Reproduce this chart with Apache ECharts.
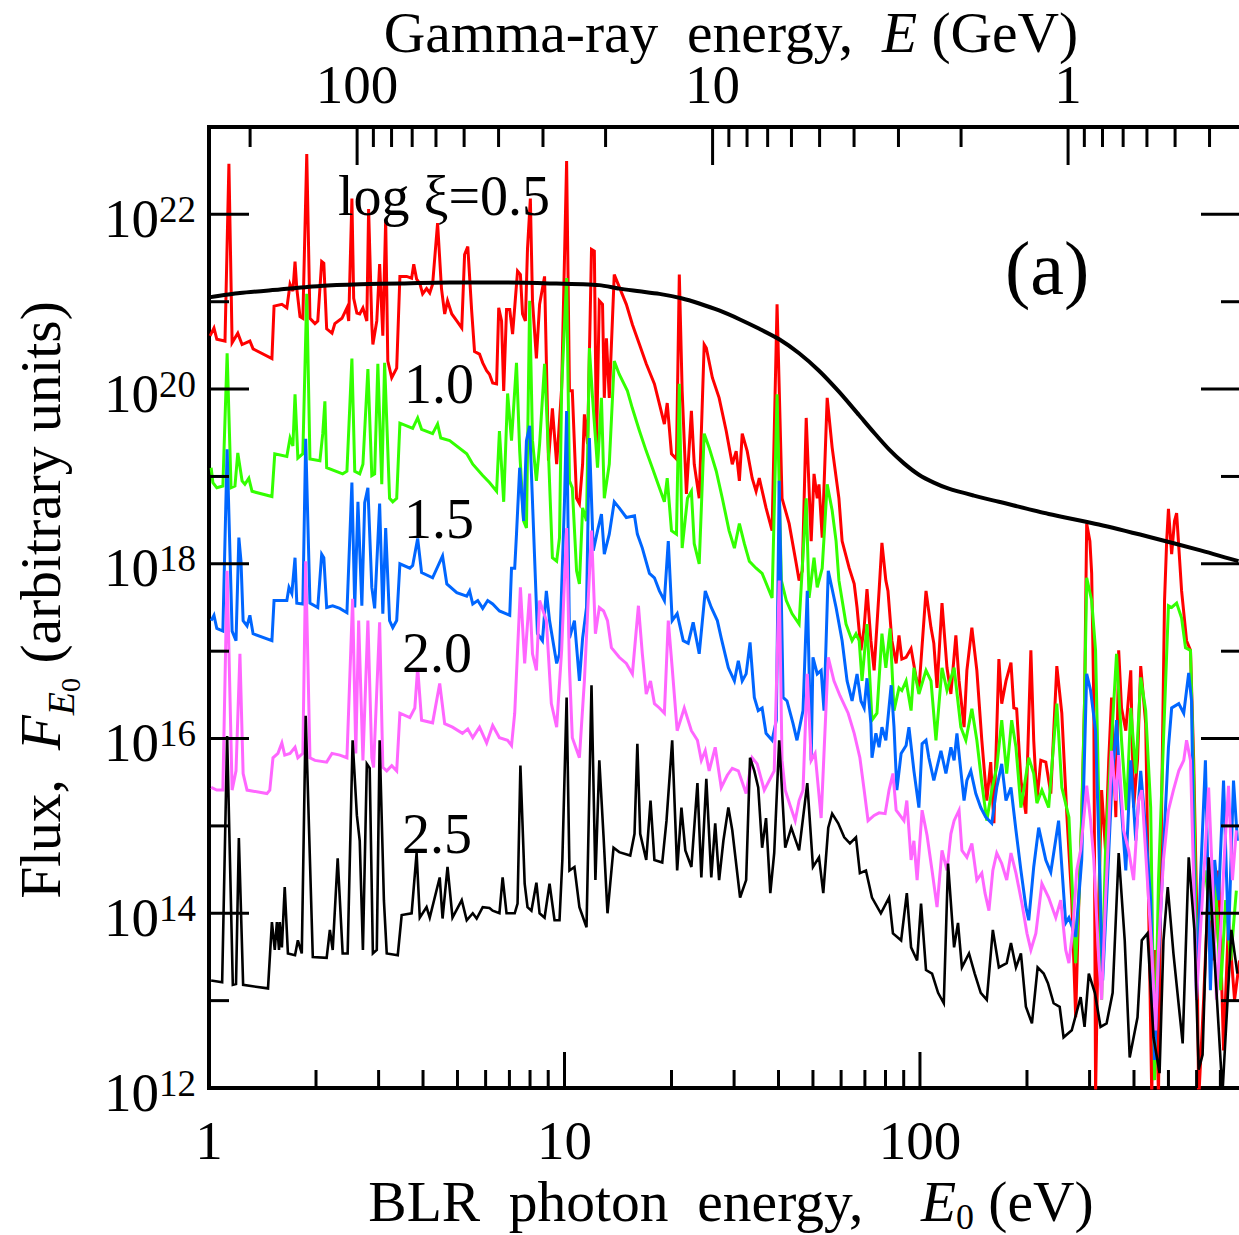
<!DOCTYPE html>
<html><head><meta charset="utf-8">
<script src="https://cdn.jsdelivr.net/npm/echarts@6/dist/echarts.min.js"></script>
<style>html,body{margin:0;padding:0;overflow:hidden;background:#fff}#c{width:1239px;height:1235px}</style>
</head><body><div id="c"></div><script>
// ---- axis settings (values) ----
const E0_MAX = 800;            // eV, right end of bottom axis
const E0_MIN = 1;
const ME2_GEV_EV = 261;        // E (GeV) = 261 / E0 (eV)
const FLUX_MIN = 1e12, FLUX_MAX = 1e23;

// ---- tick values ----
const xMajor = [1, 10, 100];
const xMinor = [2,3,4,5,6,7,8,9,20,30,40,50,60,70,80,90,200,300,400,500,600,700];
const topMajorGeV = [100, 10, 1];
const topMinorGeV = [200,90,80,70,60,50,40,30,20,9,8,7,6,5,4,3,2,0.9,0.8,0.7,0.6,0.5,0.4];
const yLabelExp = [12,14,16,18,20,22];
const yMinorExp = [13,15,17,19,21];

// ---- series: [log10 E0 (eV), log10 flux] ----
const logXi05 = [[.003,20.61],[.014,20.70],[.022,20.57],[.045,20.55],[.056,22.58],[.065,20.53],[.081,20.64],[.093,20.51],[.115,20.55],[.124,20.46],[.177,20.35],[.183,20.95],[.205,20.97],[.219,20.93],[.228,21.20],[.236,21.12],[.242,21.46],[.247,21.15],[.256,20.83],[.264,20.81],[.275,22.69],[.284,20.81],[.298,20.75],[.306,20.78],[.317,21.46],[.323,21.44],[.331,20.69],[.346,20.64],[.354,20.75],[.374,20.81],[.388,20.93],[.393,20.78],[.402,22.18],[.407,21.04],[.416,20.87],[.424,20.86],[.433,20.93],[.444,20.78],[.449,22.06],[.458,20.74],[.461,20.51],[.472,20.78],[.480,21.43],[.489,20.61],[.497,21.94],[.503,20.32],[.514,20.13],[.528,20.24],[.537,21.29],[.556,21.29],[.570,21.27],[.576,21.43],[.584,21.26],[.593,21.21],[.601,21.09],[.612,21.15],[.621,21.10],[.629,21.20],[.643,21.90],[.654,21.15],[.663,20.86],[.671,21.01],[.683,20.86],[.697,20.78],[.711,20.70],[.719,21.54],[.728,21.63],[.739,20.89],[.747,20.43],[.761,20.40],[.770,20.30],[.781,20.21],[.789,20.17],[.798,20.07],[.809,20.06],[.815,20.93],[.823,20.78],[.829,19.98],[.837,20.91],[.846,20.91],[.854,20.63],[.862,21.04],[.868,21.35],[.876,21.31],[.882,20.86],[.890,20.78],[.896,21.61],[.904,22.18],[.910,21.01],[.921,20.35],[.930,20.97],[.944,21.29],[.955,19.18],[.966,19.78],[.978,19.14],[.992,20.01],[1.006,22.61],[1.014,19.98],[1.022,19.98],[1.034,18.75],[1.042,18.69],[1.051,19.14],[1.056,19.71],[1.065,19.37],[1.076,21.60],[1.084,21.58],[1.090,19.37],[1.098,21.01],[1.107,20.97],[1.112,19.90],[1.118,20.58],[1.126,19.90],[1.140,21.31],[1.174,20.97],[1.191,20.74],[1.211,20.51],[1.230,20.29],[1.253,20.06],[1.267,19.83],[1.281,19.60],[1.289,19.84],[1.301,19.26],[1.315,19.20],[1.323,21.31],[1.331,19.98],[1.343,18.80],[1.357,19.75],[1.365,19.14],[1.379,18.75],[1.393,20.51],[1.399,20.47],[1.416,20.13],[1.435,19.90],[1.455,19.52],[1.472,19.14],[1.483,19.29],[1.492,18.95],[1.500,19.49],[1.514,19.29],[1.528,18.98],[1.539,18.83],[1.548,18.98],[1.567,18.64],[1.584,18.38],[1.598,20.97],[1.612,18.75],[1.632,18.46],[1.652,18.00],[1.660,17.81],[1.669,17.92],[1.680,19.67],[1.694,18.26],[1.702,19.03],[1.711,18.75],[1.716,18.91],[1.725,18.30],[1.739,19.90],[1.753,19.33],[1.772,18.75],[1.781,18.26],[1.801,17.95],[1.815,17.77],[1.823,17.50],[1.834,17.01],[1.843,17.27],[1.851,17.71],[1.862,17.12],[1.871,16.78],[1.885,17.69],[1.893,18.24],[1.904,17.81],[1.910,17.69],[1.921,17.12],[1.933,16.86],[1.941,17.18],[1.949,16.91],[1.961,16.93],[1.975,17.03],[1.989,16.70],[1.997,16.55],[2.017,17.69],[2.031,17.27],[2.039,17.09],[2.048,16.58],[2.062,17.55],[2.076,16.81],[2.087,16.51],[2.101,17.18],[2.110,16.66],[2.124,16.13],[2.132,16.78],[2.146,17.27],[2.160,16.78],[2.174,15.98],[2.188,15.29],[2.199,15.73],[2.208,15.03],[2.222,16.91],[2.230,16.40],[2.242,16.66],[2.256,16.87],[2.264,16.35],[2.272,16.34],[2.284,15.52],[2.298,15.14],[2.312,17.01],[2.320,15.98],[2.329,15.29],[2.340,15.75],[2.354,15.73],[2.368,15.37],[2.385,16.83],[2.399,16.29],[2.413,15.14],[2.427,14.15],[2.438,12.81],[2.447,14.15],[2.455,15.06],[2.463,16.43],[2.469,18.46],[2.478,18.26],[2.483,17.89],[2.489,16.43],[2.494,11.92],[2.503,14.15],[2.511,15.41],[2.522,14.72],[2.531,15.75],[2.539,16.47],[2.551,15.10],[2.559,17.01],[2.567,16.35],[2.579,16.09],[2.593,16.78],[2.601,15.21],[2.612,15.75],[2.621,16.83],[2.635,16.17],[2.643,14.15],[2.652,11.92],[2.660,13.58],[2.671,11.92],[2.680,15.29],[2.688,17.58],[2.694,18.26],[2.699,18.63],[2.708,18.11],[2.716,18.49],[2.722,18.58],[2.736,17.69],[2.750,17.12],[2.761,17.01],[2.770,15.75],[2.778,14.15],[2.784,11.86],[2.798,13.01],[2.812,14.38],[2.826,13.46],[2.840,14.49],[2.854,12.43],[2.868,13.92],[2.885,13.01],[2.899,13.46]];

const logXi10 = [[.006,19.10],[.011,18.93],[.022,18.87],[.039,18.89],[.051,20.41],[.062,18.87],[.073,18.89],[.081,19.27],[.093,18.95],[.101,18.91],[.112,18.98],[.121,18.83],[.177,18.77],[.185,19.26],[.219,19.23],[.228,19.44],[.236,19.35],[.242,19.94],[.250,19.21],[.264,19.26],[.275,21.09],[.284,19.20],[.312,19.18],[.320,19.49],[.326,19.86],[.331,19.10],[.376,19.03],[.388,19.06],[.402,20.35],[.410,19.06],[.424,19.03],[.433,19.14],[.447,20.23],[.458,19.01],[.466,19.03],[.475,20.29],[.486,18.91],[.494,20.30],[.508,18.75],[.517,18.71],[.528,18.75],[.537,19.61],[.556,19.58],[.573,19.55],[.587,19.67],[.598,19.54],[.629,19.49],[.643,19.60],[.652,19.44],[.677,19.41],[.725,19.26],[.742,19.14],[.770,19.01],[.789,18.93],[.809,18.83],[.817,19.52],[.829,18.71],[.840,19.95],[.851,19.41],[.865,20.30],[.874,19.29],[.885,18.49],[.893,18.41],[.902,21.01],[.910,19.41],[.921,18.95],[.930,19.37],[.944,20.29],[.955,19.26],[.966,18.07],[.978,18.03],[.986,18.30],[.992,20.01],[1.006,21.27],[1.014,18.95],[1.022,18.87],[1.034,17.92],[1.042,17.77],[1.051,18.64],[1.062,18.49],[1.070,20.47],[1.079,19.90],[1.093,19.10],[1.104,19.90],[1.112,18.75],[1.126,19.14],[1.140,20.32],[1.154,20.17],[1.177,19.98],[1.191,19.78],[1.211,19.52],[1.230,19.29],[1.247,19.10],[1.267,18.87],[1.281,18.71],[1.289,18.98],[1.301,18.38],[1.315,18.34],[1.323,20.06],[1.331,18.18],[1.346,18.75],[1.357,18.83],[1.365,18.23],[1.379,18.00],[1.393,19.49],[1.407,19.33],[1.427,19.06],[1.444,18.75],[1.463,18.38],[1.478,18.18],[1.492,18.46],[1.506,18.23],[1.520,18.03],[1.539,17.95],[1.556,17.89],[1.576,17.69],[1.584,17.61],[1.598,19.94],[1.610,17.81],[1.624,17.58],[1.640,17.43],[1.660,17.31],[1.680,18.75],[1.688,17.61],[1.702,18.07],[1.711,17.73],[1.725,17.95],[1.739,18.91],[1.753,18.61],[1.764,18.26],[1.772,17.81],[1.792,17.31],[1.809,17.12],[1.820,17.20],[1.829,17.12],[1.837,16.66],[1.851,17.31],[1.865,16.21],[1.879,16.29],[1.893,17.20],[1.904,16.81],[1.916,17.26],[1.927,16.32],[1.941,16.58],[1.949,16.55],[1.961,16.66],[1.975,16.32],[1.983,16.81],[1.997,16.51],[2.017,16.78],[2.031,16.66],[2.045,15.98],[2.062,16.81],[2.076,16.55],[2.096,16.81],[2.115,16.13],[2.129,15.98],[2.146,16.34],[2.160,15.98],[2.174,15.49],[2.188,15.06],[2.202,15.41],[2.216,15.67],[2.230,16.21],[2.244,15.60],[2.258,16.21],[2.270,15.90],[2.284,15.21],[2.306,15.78],[2.320,15.60],[2.329,15.26],[2.343,15.41],[2.362,15.21],[2.385,16.40],[2.399,15.44],[2.419,15.10],[2.430,14.15],[2.438,13.43],[2.447,14.15],[2.455,15.14],[2.463,16.43],[2.469,17.84],[2.483,17.58],[2.494,17.01],[2.503,15.29],[2.511,13.01],[2.522,14.72],[2.539,15.98],[2.553,16.97],[2.567,15.98],[2.581,15.18],[2.593,16.35],[2.607,15.60],[2.621,16.70],[2.635,16.32],[2.649,15.21],[2.660,12.09],[2.671,14.38],[2.685,15.98],[2.699,17.52],[2.708,17.50],[2.722,17.55],[2.736,17.38],[2.747,17.04],[2.761,17.01],[2.770,15.52],[2.778,13.46],[2.789,14.15],[2.803,14.49],[2.817,13.92],[2.831,14.38],[2.846,13.12],[2.860,14.15],[2.874,13.46],[2.890,14.26]];

const logXi15 = [[.006,17.35],[.014,17.41],[.022,17.26],[.039,17.23],[.051,19.31],[.065,17.23],[.076,17.12],[.084,18.30],[.090,18.03],[.096,17.35],[.107,17.29],[.115,17.41],[.124,17.20],[.177,17.12],[.183,17.58],[.219,17.58],[.225,17.73],[.233,17.66],[.242,18.07],[.247,17.55],[.264,17.54],[.272,19.43],[.284,17.55],[.306,17.50],[.317,18.11],[.323,18.07],[.331,17.50],[.348,17.52],[.368,17.49],[.388,17.44],[.402,18.93],[.410,17.50],[.419,18.71],[.430,17.52],[.438,18.70],[.447,18.87],[.458,17.73],[.466,17.49],[.480,18.69],[.489,17.43],[.497,18.41],[.508,17.35],[.517,17.27],[.528,17.35],[.537,18.00],[.565,17.95],[.573,17.98],[.587,18.29],[.598,17.90],[.629,17.84],[.657,18.09],[.669,17.77],[.697,17.67],[.725,17.63],[.733,17.69],[.742,17.54],[.756,17.58],[.770,17.49],[.784,17.58],[.798,17.54],[.817,17.46],[.846,17.41],[.851,17.95],[.860,17.95],[.865,18.34],[.874,19.10],[.885,18.49],[.893,19.41],[.902,19.58],[.910,18.71],[.924,17.20],[.938,17.12],[.949,17.69],[.958,17.35],[.978,16.86],[.986,16.97],[1.000,18.71],[1.006,19.75],[1.014,17.15],[1.028,17.35],[1.042,16.66],[1.051,17.15],[1.062,17.50],[1.070,19.44],[1.081,18.15],[1.093,18.38],[1.104,18.57],[1.112,18.11],[1.126,18.34],[1.140,18.71],[1.154,18.64],[1.174,18.53],[1.197,18.55],[1.205,18.34],[1.219,18.18],[1.239,17.89],[1.253,17.84],[1.267,17.69],[1.281,17.58],[1.292,18.26],[1.303,17.35],[1.317,17.43],[1.334,17.12],[1.348,17.09],[1.362,17.33],[1.379,16.97],[1.396,17.69],[1.413,17.50],[1.430,17.35],[1.441,17.15],[1.461,16.81],[1.478,16.66],[1.489,16.89],[1.500,16.66],[1.511,16.74],[1.522,17.10],[1.534,16.47],[1.545,16.32],[1.556,16.35],[1.567,16.06],[1.584,15.98],[1.596,16.21],[1.604,18.95],[1.615,16.47],[1.626,16.43],[1.643,16.17],[1.654,15.98],[1.671,16.32],[1.683,17.69],[1.694,15.75],[1.699,16.93],[1.711,16.74],[1.722,16.78],[1.730,16.32],[1.742,17.92],[1.764,17.50],[1.781,17.12],[1.795,16.66],[1.809,16.43],[1.823,16.74],[1.834,16.43],[1.843,16.35],[1.851,16.69],[1.862,16.17],[1.865,15.78],[1.876,16.06],[1.885,15.90],[1.893,16.13],[1.904,15.98],[1.919,16.61],[1.927,16.13],[1.935,15.41],[1.947,15.83],[1.961,15.92],[1.969,16.13],[1.983,15.63],[1.997,15.21],[2.006,15.94],[2.017,15.98],[2.025,15.78],[2.039,15.52],[2.059,15.86],[2.073,15.60],[2.087,15.90],[2.096,15.75],[2.104,16.06],[2.115,15.63],[2.124,15.29],[2.132,15.52],[2.143,15.63],[2.157,15.37],[2.171,15.21],[2.185,15.10],[2.202,15.03],[2.216,15.44],[2.230,15.71],[2.242,15.29],[2.256,15.44],[2.270,14.95],[2.284,14.49],[2.298,14.07],[2.306,13.92],[2.320,14.53],[2.334,14.98],[2.354,14.61],[2.368,14.47],[2.390,15.06],[2.410,13.89],[2.419,13.95],[2.438,13.73],[2.455,14.61],[2.469,16.74],[2.480,16.55],[2.494,16.09],[2.503,14.83],[2.514,13.23],[2.525,14.15],[2.539,15.41],[2.553,16.21],[2.565,15.29],[2.579,14.49],[2.593,15.75],[2.607,14.83],[2.621,15.63],[2.635,14.95],[2.649,14.15],[2.660,12.32],[2.671,13.46],[2.685,14.72],[2.699,15.90],[2.708,16.35],[2.728,16.40],[2.742,16.29],[2.756,16.75],[2.764,16.43],[2.770,14.72],[2.778,13.01],[2.789,14.38],[2.803,15.75],[2.817,13.12],[2.829,14.61],[2.840,14.15],[2.854,15.52],[2.868,13.69],[2.882,15.52],[2.893,14.83]];

const logXi20 = [[.006,15.44],[.022,15.41],[.039,15.41],[.051,17.92],[.065,15.41],[.076,15.63],[.087,16.97],[.096,15.60],[.107,15.41],[.163,15.37],[.171,15.41],[.180,15.78],[.194,15.83],[.205,15.95],[.213,15.81],[.228,15.83],[.242,15.90],[.250,15.78],[.264,15.83],[.272,18.03],[.284,15.78],[.298,15.75],[.331,15.73],[.346,15.83],[.368,15.81],[.388,15.78],[.404,17.60],[.413,15.83],[.421,17.35],[.433,15.75],[.447,17.35],[.458,15.78],[.463,15.67],[.480,17.33],[.489,15.67],[.500,15.63],[.514,15.69],[.528,15.63],[.537,16.29],[.565,16.24],[.579,16.35],[.587,16.81],[.598,16.21],[.629,16.18],[.649,16.63],[.663,16.17],[.685,16.13],[.713,16.06],[.728,16.11],[.742,16.01],[.761,16.13],[.781,15.95],[.798,16.15],[.817,16.01],[.840,15.98],[.851,15.92],[.860,16.29],[.876,17.73],[.888,16.86],[.902,17.66],[.910,16.97],[.921,16.78],[.930,17.58],[.949,17.35],[.963,16.40],[.978,16.13],[.992,17.01],[1.006,18.41],[1.014,16.81],[1.022,16.01],[1.042,15.78],[1.056,16.66],[1.076,18.38],[1.087,17.20],[1.098,17.50],[1.110,17.46],[1.121,17.35],[1.132,17.04],[1.154,16.93],[1.174,16.86],[1.191,16.74],[1.208,17.52],[1.219,16.97],[1.230,16.51],[1.242,16.66],[1.253,16.40],[1.267,16.35],[1.281,16.29],[1.292,17.35],[1.303,16.81],[1.317,16.09],[1.337,16.35],[1.357,16.09],[1.374,15.98],[1.385,15.75],[1.396,15.86],[1.407,15.63],[1.424,15.90],[1.441,15.44],[1.458,15.58],[1.472,15.66],[1.489,15.63],[1.511,15.37],[1.528,15.78],[1.542,15.71],[1.562,15.41],[1.576,15.52],[1.590,15.63],[1.604,17.81],[1.612,15.75],[1.621,15.41],[1.635,15.23],[1.649,15.06],[1.660,15.29],[1.671,15.41],[1.683,16.74],[1.694,15.75],[1.705,15.83],[1.722,15.09],[1.742,16.93],[1.758,16.66],[1.775,16.49],[1.798,16.29],[1.815,16.06],[1.831,15.78],[1.843,15.41],[1.854,15.06],[1.871,15.12],[1.885,15.15],[1.902,15.14],[1.913,15.41],[1.924,15.60],[1.933,15.18],[1.955,15.06],[1.963,15.29],[1.975,14.61],[1.983,14.83],[1.992,14.38],[2.006,15.18],[2.020,14.89],[2.034,14.49],[2.048,14.07],[2.062,14.72],[2.076,14.49],[2.087,14.91],[2.096,15.06],[2.110,15.18],[2.118,14.72],[2.132,14.64],[2.146,14.80],[2.160,14.38],[2.174,14.46],[2.183,14.23],[2.194,14.03],[2.205,14.49],[2.216,14.69],[2.230,14.57],[2.244,14.38],[2.256,14.69],[2.270,14.46],[2.287,14.11],[2.301,13.77],[2.312,13.58],[2.326,13.77],[2.343,14.34],[2.362,14.18],[2.382,13.95],[2.396,14.15],[2.410,13.58],[2.419,13.43],[2.430,13.81],[2.441,14.49],[2.452,14.72],[2.463,15.18],[2.469,15.46],[2.480,15.06],[2.489,14.61],[2.503,13.46],[2.511,13.01],[2.522,14.15],[2.531,14.95],[2.539,15.86],[2.551,15.29],[2.559,15.81],[2.573,14.95],[2.587,14.72],[2.601,14.38],[2.615,15.29],[2.624,15.41],[2.638,14.49],[2.652,13.58],[2.663,12.66],[2.671,13.58],[2.685,14.61],[2.699,15.18],[2.713,15.41],[2.728,15.63],[2.742,15.75],[2.750,15.98],[2.761,15.75],[2.770,14.38],[2.778,13.01],[2.789,13.81],[2.801,14.61],[2.812,15.44],[2.823,14.38],[2.834,13.01],[2.846,13.81],[2.857,14.72],[2.868,15.46],[2.879,14.38],[2.890,14.95]];

const logXi25 = [[.006,13.23],[.037,13.21],[.051,16.03],[.067,13.18],[.076,13.19],[.084,14.86],[.096,13.18],[.166,13.14],[.177,13.90],[.185,13.58],[.191,13.90],[.197,13.58],[.199,13.90],[.205,13.61],[.213,14.30],[.222,13.54],[.242,13.52],[.250,13.69],[.261,13.54],[.272,16.26],[.292,13.50],[.331,13.49],[.340,13.81],[.348,13.58],[.362,14.63],[.376,13.54],[.390,13.54],[.404,15.98],[.416,15.12],[.424,14.83],[.433,13.58],[.444,15.71],[.452,15.66],[.461,13.54],[.472,13.58],[.480,15.98],[.492,14.15],[.500,13.54],[.531,13.52],[.542,13.98],[.570,14.00],[.584,14.69],[.593,13.95],[.612,14.07],[.621,13.95],[.649,14.41],[.657,13.94],[.671,14.53],[.685,13.95],[.711,14.15],[.725,13.92],[.742,14.00],[.753,13.94],[.770,14.07],[.789,14.06],[.798,14.03],[.817,14.00],[.826,14.41],[.837,14.00],[.860,14.00],[.868,14.11],[.876,15.69],[.888,14.34],[.896,14.07],[.907,14.03],[.921,14.35],[.930,14.00],[.944,13.95],[.958,14.34],[.972,13.92],[.986,13.92],[.994,14.61],[1.006,16.47],[1.014,14.49],[1.028,14.53],[1.042,14.07],[1.062,13.84],[1.076,16.61],[1.087,14.38],[1.098,15.75],[1.110,14.87],[1.121,14.00],[1.138,14.75],[1.154,14.70],[1.185,14.66],[1.197,14.91],[1.205,15.94],[1.213,14.91],[1.230,14.61],[1.242,15.29],[1.253,14.61],[1.275,14.58],[1.287,15.06],[1.303,15.98],[1.317,14.49],[1.329,15.21],[1.340,14.72],[1.357,14.53],[1.374,15.49],[1.385,14.41],[1.399,15.54],[1.413,14.41],[1.424,15.03],[1.435,14.38],[1.447,14.83],[1.461,15.21],[1.472,14.95],[1.494,14.18],[1.511,14.38],[1.522,15.78],[1.534,15.63],[1.545,15.44],[1.556,14.75],[1.567,15.09],[1.579,14.23],[1.590,14.69],[1.604,15.98],[1.621,14.75],[1.638,14.98],[1.660,14.72],[1.683,15.49],[1.699,14.53],[1.716,14.64],[1.728,14.23],[1.742,14.98],[1.753,15.14],[1.770,15.03],[1.787,14.87],[1.803,14.80],[1.820,14.87],[1.831,14.46],[1.848,14.49],[1.865,14.18],[1.890,14.00],[1.913,14.18],[1.924,13.77],[1.947,13.69],[1.963,14.23],[1.975,13.61],[1.992,13.46],[2.003,14.11],[2.017,13.35],[2.034,13.31],[2.051,13.09],[2.067,12.97],[2.079,14.57],[2.096,13.61],[2.107,13.89],[2.118,13.38],[2.138,13.54],[2.154,13.31],[2.171,13.09],[2.188,13.01],[2.205,13.81],[2.222,13.38],[2.244,13.43],[2.256,13.66],[2.270,13.38],[2.284,13.54],[2.298,12.93],[2.315,12.74],[2.331,13.38],[2.348,13.31],[2.360,13.20],[2.376,12.97],[2.393,12.93],[2.404,12.58],[2.427,12.66],[2.452,13.04],[2.463,12.70],[2.475,13.31],[2.492,13.09],[2.508,12.70],[2.525,12.74],[2.542,13.09],[2.559,14.69],[2.576,13.69],[2.590,12.35],[2.612,12.81],[2.624,13.69],[2.640,13.77],[2.657,12.58],[2.674,12.17],[2.685,13.69],[2.697,14.30],[2.713,13.54],[2.739,12.51],[2.756,14.64],[2.772,13.81],[2.784,12.21],[2.795,12.38],[2.812,14.64],[2.829,13.46],[2.851,11.94],[2.876,13.81],[2.893,13.31]];

const envelope = [[0,21.05],[.087,21.10],[.199,21.14],[.312,21.18],[.424,21.20],[.537,21.21],[.677,21.22],[.817,21.22],[.958,21.21],[1.098,21.19],[1.154,21.15],[1.211,21.12],[1.267,21.09],[1.329,21.04],[1.379,20.98],[1.435,20.90],[1.492,20.80],[1.548,20.69],[1.604,20.57],[1.660,20.41],[1.716,20.21],[1.772,19.97],[1.829,19.70],[1.871,19.50],[1.913,19.31],[1.955,19.15],[1.997,19.02],[2.039,18.93],[2.081,18.86],[2.152,18.78],[2.222,18.71],[2.362,18.57],[2.503,18.45],[2.643,18.31],[2.784,18.16],[2.896,18.03]];

const FONT = '"Liberation Serif","Times New Roman",Times,serif';
const TITLE_SIZE = 57.5;
const toPts = arr => arr.map(p => [Math.pow(10, p[0]), Math.pow(10, p[1])]);

const tickData = [];
xMajor.forEach(v => tickData.push([v, FLUX_MIN, 0]));
xMinor.forEach(v => tickData.push([v, FLUX_MIN, 1]));
topMajorGeV.forEach(e => tickData.push([ME2_GEV_EV / e, FLUX_MAX, 2]));
topMinorGeV.forEach(e => tickData.push([ME2_GEV_EV / e, FLUX_MAX, 3]));
yLabelExp.forEach(p => tickData.push([E0_MIN, Math.pow(10, p), 4]));
yMinorExp.forEach(p => tickData.push([E0_MIN, Math.pow(10, p), 5]));

function renderTick(params, api) {
  const xv = api.value(0), yv = api.value(1), k = api.value(2);
  const st = { stroke: '#000', lineWidth: 3 };
  if (k <= 1) {
    const p = api.coord([xv, FLUX_MIN]); const L = k === 0 ? 36 : 18;
    return { type: 'line', shape: { x1: p[0], y1: p[1], x2: p[0], y2: p[1] - L }, style: st };
  }
  if (k <= 3) {
    const p = api.coord([xv, FLUX_MAX]); const L = k === 2 ? 38 : 20;
    return { type: 'line', shape: { x1: p[0], y1: p[1], x2: p[0], y2: p[1] + L }, style: st };
  }
  const pl = api.coord([E0_MIN, yv]); const pr = api.coord([E0_MAX, yv]);
  const L = k === 4 ? 40 : 20;
  const children = [
    { type: 'line', shape: { x1: pl[0], y1: pl[1], x2: pl[0] + L, y2: pl[1] }, style: st },
    { type: 'line', shape: { x1: pr[0], y1: pr[1], x2: pr[0] - L, y2: pr[1] }, style: st }
  ];
  if (k === 4) {
    children.push({ type: 'text', x: pl[0] - 13, y: pl[1] + 4, style: {
      text: '{b|10}{s|' + Math.round(Math.log10(yv)) + '}', fill: '#000', align: 'right', verticalAlign: 'middle',
      rich: { b: { fontSize: 55, fontFamily: FONT, fill: '#000' }, s: { fontSize: 37, fontFamily: FONT, fill: '#000', verticalAlign: 'top' } } } });
  }
  return { type: 'group', children };
}

const line = (name, arr, color, w, z) => ({
  name, type: 'line', data: toPts(arr), showSymbol: false, symbol: 'none', clip: true,
  lineStyle: { color, width: w, join: 'miter' }, itemStyle: { color }, z, silent: true
});

const chart = echarts.init(document.getElementById('c'), null, { renderer: 'svg' });
chart.setOption({
  animation: false,
  backgroundColor: '#fff',
  grid: { left: 209, top: 127, width: 1032, height: 961, show: true, borderColor: '#000', borderWidth: 4, outerBoundsMode: 'none' },
  xAxis: [
    { type: 'log', logBase: 10, min: E0_MIN, max: E0_MAX, position: 'bottom',
      axisLine: { show: false }, axisTick: { show: false }, splitLine: { show: false },
      axisLabel: { show: true, margin: 25, fontSize: 55, fontFamily: FONT, color: '#000', showMinLabel: true, showMaxLabel: false, alignMinLabel: 'center',
        formatter: v => String(Math.round(v)) } },
    { type: 'log', logBase: 10, min: ME2_GEV_EV / E0_MAX, max: ME2_GEV_EV / E0_MIN, inverse: true, position: 'top',
      axisLine: { show: false }, axisTick: { show: false }, splitLine: { show: false },
      axisLabel: { show: true, margin: 25, fontSize: 55, lineHeight: 36, fontFamily: FONT, color: '#000', showMinLabel: false, showMaxLabel: false,
        formatter: v => String(Math.round(v)) } }
  ],
  yAxis: { type: 'log', logBase: 10, min: FLUX_MIN, max: FLUX_MAX,
    axisLine: { show: false }, axisTick: { show: false }, splitLine: { show: false }, axisLabel: { show: false } },
  series: [
    line('log ξ=0.5', logXi05, '#ff0000', 3, 2),
    line('log ξ=1.0', logXi10, '#33ff00', 3, 3),
    line('log ξ=1.5', logXi15, '#0066ff', 3, 4),
    line('log ξ=2.0', logXi20, '#ff66ff', 3, 5),
    line('log ξ=2.5', logXi25, '#000000', 2.6, 6),
    { name: 'threshold', type: 'line', data: toPts(envelope), showSymbol: false, symbol: 'none', smooth: 0.25,
      lineStyle: { color: '#000', width: 4 }, z: 7, silent: true },
    { type: 'custom', renderItem: renderTick, data: tickData, clip: false, silent: true, z: 10, encode: { x: 0, y: 1 } }
  ],
  graphic: [
    { type: 'text', x: 338, y: 196, z: 20, style: { text: 'log\u00a0ξ=0.5', fontSize: 56, fontFamily: FONT, fill: '#000', align: 'left', verticalAlign: 'middle' } },
    { type: 'text', x: 404, y: 384, z: 20, style: { text: '1.0', fontSize: 56, fontFamily: FONT, fill: '#000', align: 'left', verticalAlign: 'middle' } },
    { type: 'text', x: 404, y: 519, z: 20, style: { text: '1.5', fontSize: 56, fontFamily: FONT, fill: '#000', align: 'left', verticalAlign: 'middle' } },
    { type: 'text', x: 402, y: 653, z: 20, style: { text: '2.0', fontSize: 56, fontFamily: FONT, fill: '#000', align: 'left', verticalAlign: 'middle' } },
    { type: 'text', x: 402, y: 834, z: 20, style: { text: '2.5', fontSize: 56, fontFamily: FONT, fill: '#000', align: 'left', verticalAlign: 'middle' } },
    { type: 'text', x: 1005, y: 268, z: 20, style: { text: '(a)', fontSize: 76, fontFamily: FONT, fill: '#000', align: 'left', verticalAlign: 'middle' } },
    { type: 'text', x: 731, y: 32, z: 20, style: {
      text: 'Gamma-ray\u00a0\u00a0energy,\u00a0\u00a0{i|E}\u00a0(GeV)', fontSize: TITLE_SIZE, fontFamily: FONT, fill: '#000', align: 'center', verticalAlign: 'middle', lineHeight: 46,
      rich: { i: { fontSize: TITLE_SIZE, fontFamily: FONT, fontStyle: 'italic', fill: '#000', lineHeight: 46 } } } },
    { type: 'text', x: 731, y: 1201, z: 20, style: {
      text: 'BLR\u00a0\u00a0photon\u00a0\u00a0energy,\u00a0\u00a0\u00a0\u00a0{i|E}{sub|0}\u00a0(eV)', fontSize: TITLE_SIZE, fontFamily: FONT, fill: '#000', align: 'center', verticalAlign: 'middle', lineHeight: 52,
      rich: { i: { fontSize: TITLE_SIZE, fontFamily: FONT, fontStyle: 'italic', fill: '#000', lineHeight: 52 },
              sub: { fontSize: 36, fontFamily: FONT, fill: '#000', lineHeight: 22, verticalAlign: 'top', padding: [24, 0, 0, 0] } } } },
    { type: 'text', x: 40, y: 600, rotation: Math.PI / 2, z: 20, style: {
      text: 'Flux,\u00a0\u00a0{i|F}{sub|E}{sub2|0}\u00a0(arbitrary\u00a0units)', fontSize: TITLE_SIZE, fontFamily: FONT, fill: '#000', align: 'center', verticalAlign: 'middle', lineHeight: 56,
      rich: { i: { fontSize: TITLE_SIZE, fontFamily: FONT, fontStyle: 'italic', fill: '#000', lineHeight: 56 },
              sub: { fontSize: 38, fontFamily: FONT, fontStyle: 'italic', fill: '#000', lineHeight: 22, verticalAlign: 'top', padding: [30, 0, 0, 0] },
              sub2: { fontSize: 28, fontFamily: FONT, fill: '#000', lineHeight: 16, verticalAlign: 'top', padding: [44, 0, 0, 0] } } } }
  ]
});
</script></body></html>
